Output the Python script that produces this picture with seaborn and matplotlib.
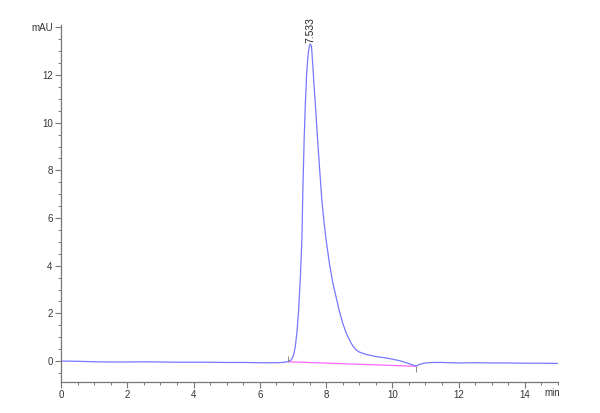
import matplotlib
matplotlib.use("Agg")
import matplotlib.pyplot as plt
import seaborn as sns
import pandas as pd
from matplotlib.ticker import MultipleLocator

# chromatogram trace (min, mAU)
time = [0.0, 0.5, 1.0, 1.5, 2.0, 2.5, 3.0, 3.5, 4.0, 4.5, 5.0, 5.5, 6.0, 6.5, 6.7,
        6.85, 6.95, 7.02, 7.07, 7.12, 7.17, 7.23, 7.27, 7.30, 7.34, 7.38, 7.42,
        7.46, 7.50, 7.533, 7.56, 7.60, 7.64, 7.67, 7.74, 7.80, 7.87, 7.94, 8.00,
        8.10, 8.20, 8.30, 8.40, 8.50, 8.60, 8.70, 8.80, 8.90, 9.00, 9.20, 9.40,
        9.60, 9.80, 10.00, 10.20, 10.40, 10.55, 10.71, 10.80, 10.95, 11.2, 11.5,
        12.0, 12.5, 13.0, 13.5, 14.0, 14.5, 15.0]
signal = [0.00, -0.01, -0.03, -0.04, -0.04, -0.03, -0.04, -0.05, -0.05, -0.05,
          -0.06, -0.06, -0.07, -0.07, -0.06, -0.02, 0.05, 0.25, 0.6, 1.2, 2.1,
          3.7, 5.1, 7.2, 9.4, 11.0, 12.2, 12.9, 13.25, 13.3, 13.2, 12.4, 11.5,
          10.9, 9.4, 8.15, 6.8, 5.8, 5.1, 4.1, 3.3, 2.7, 2.1, 1.6, 1.2, 0.9,
          0.65, 0.48, 0.38, 0.28, 0.22, 0.17, 0.13, 0.08, 0.02, -0.06, -0.13,
          -0.22, -0.15, -0.09, -0.06, -0.06, -0.08, -0.07, -0.08, -0.08, -0.09,
          -0.09, -0.10]

# integration baseline
base_time = [6.85, 10.71]
base_signal = [-0.03, -0.22]

peak_rt = 7.533
peak_label = "7.533"

x_ticks = [0, 2, 4, 6, 8, 10, 12, 14]
y_ticks = [0, 2, 4, 6, 8, 10, 12, 14]
y_labels = ["0", "2", "4", "6", "8", "10", "12", "mAU"]

sns.set_style("ticks")
plt.rcParams['font.family'] = ['Liberation Sans', 'DejaVu Sans']

df = pd.DataFrame({'time': time, 'signal': signal})
bl = pd.DataFrame({'time': base_time, 'signal': base_signal})

fig = plt.figure(figsize=(6, 4.13), dpi=100)
ax = fig.add_axes([0.1017, 0.075, 0.8283, 0.8645])

sns.lineplot(data=bl, x='time', y='signal', ax=ax, color='#ff66ff', linewidth=0.9)
sns.lineplot(data=df, x='time', y='signal', ax=ax, color='#7777ff', linewidth=0.9)

# integration start / end marks
ax.vlines([base_time[0]], base_signal[0], base_signal[0] + 0.25, color='#888888', linewidth=0.7)
ax.vlines([base_time[1]], base_signal[1] - 0.25, base_signal[1], color='#888888', linewidth=0.7)

ax.text(peak_rt, 13.35, peak_label, rotation=90, ha='center', va='bottom',
        fontsize=7.5, color='#222222')

ax.set_xlim(0, 15)
ax.set_ylim(-0.88, 14.1)
ax.set_xticks(x_ticks)
ax.set_yticks(y_ticks)
ax.set_yticklabels(y_labels)
ax.xaxis.set_minor_locator(MultipleLocator(0.5))
ax.yaxis.set_minor_locator(MultipleLocator(0.5))
ax.tick_params(which='major', length=4, width=0.8, color='#777777',
               labelsize=7, labelcolor='#333333', pad=2)
ax.tick_params(which='minor', length=2.5, width=0.7, color='#777777')
ax.text(14.82, -1.13, "min", ha='center', va='top', fontsize=7, color='#333333',
        clip_on=False)
ax.set_xlabel('')
ax.set_ylabel('')
sns.despine(ax=ax)
for s in ['left', 'bottom']:
    ax.spines[s].set_color('#777777')
    ax.spines[s].set_linewidth(0.9)

fig.savefig('out.png', dpi=100)
plt.close()
